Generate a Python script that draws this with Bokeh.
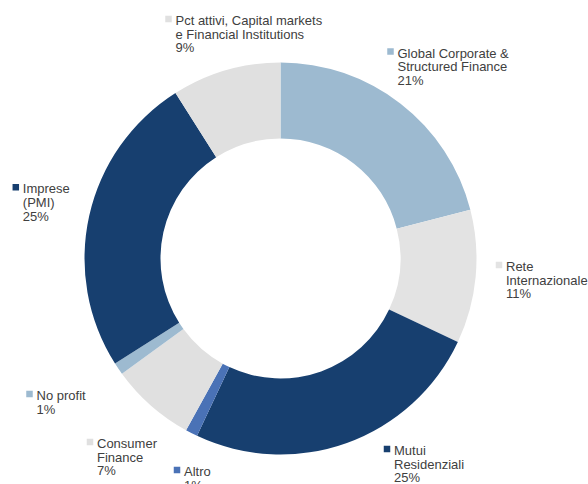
import math
from bokeh.plotting import figure
from bokeh.models import Range1d, ColumnDataSource
from bokeh.core.properties import value
from bokeh.embed import file_html
from bokeh.resources import INLINE

# ---- data (clockwise from 12 o'clock) ----
categories = [
    "Global Corporate &\nStructured Finance",
    "Rete\nInternazionale",
    "Mutui\nResidenziali",
    "Altro",
    "Consumer\nFinance",
    "No profit",
    "Imprese\n(PMI)",
    "Pct attivi, Capital markets\ne Financial Institutions",
]
shares = [21, 11, 25, 1, 7, 1, 25, 9]

# ---- styles ----
colors = ["#9dbad0", "#e3e3e3", "#173f6f", "#4a72b6",
          "#e0e0e0", "#9dbad0", "#173f6f", "#e0e0e0"]
TEXT_COLOR = "#404040"
FONT = "Liberation Sans"

# ---- layout (screen px: label text left x, cap-top of first line) ----
label_pos = [(397, 47.5), (505.5, 261), (393.5, 445), (183.5, 466),
             (96.5, 438), (36, 390), (22.3, 183.3), (175, 15)]

W, H = 588, 484
CX, CY = 280, 258          # screen px
R_OUT, R_IN = 196, 120
PITCH = 13.6

def sy(y):                 # screen y -> data y
    return H - y

p = figure(width=W, height=H, output_backend="svg", toolbar_location=None,
           x_range=Range1d(0, W), y_range=Range1d(0, H),
           x_axis_location=None, y_axis_location=None, min_border=0)
p.grid.visible = False
p.outline_line_color = None
p.background_fill_color = "white"

total = float(sum(shares))
starts, ends = [], []
cum = 0.0
for s in shares:
    starts.append(math.pi / 2 - 2 * math.pi * cum / total)
    cum += s
    ends.append(math.pi / 2 - 2 * math.pi * cum / total)

wsrc = ColumnDataSource(dict(x=[CX] * len(shares), y=[sy(CY)] * len(shares),
                             start=starts, end=ends, color=colors))
p.annular_wedge(x="x", y="y", inner_radius=R_IN, outer_radius=R_OUT,
                start_angle="start", end_angle="end", direction="clock",
                fill_color="color", line_color=None, source=wsrc)

# labels
tx, ty, tt = [], [], []
mx, my, mc = [], [], []
for cat, s, col, (lx, top) in zip(categories, shares, colors, label_pos):
    lines = cat.split("\n") + [f"{s}%"]
    for i, ln in enumerate(lines):
        tx.append(lx)
        ty.append(sy(top - 2.5 + i * PITCH))
        tt.append(ln)
    mx.append(lx - 7)
    my.append(sy(top + 3.5))
    mc.append(col)

p.rect(x=mx, y=my, width=6.5, height=6.5, fill_color=mc, line_color=None)
p.text(x=tx, y=ty, text=tt, text_font=value(FONT), text_font_size="13px",
       text_color=TEXT_COLOR, text_baseline="top", text_align="left")

open("out.html", "w").write(file_html(p, INLINE))
